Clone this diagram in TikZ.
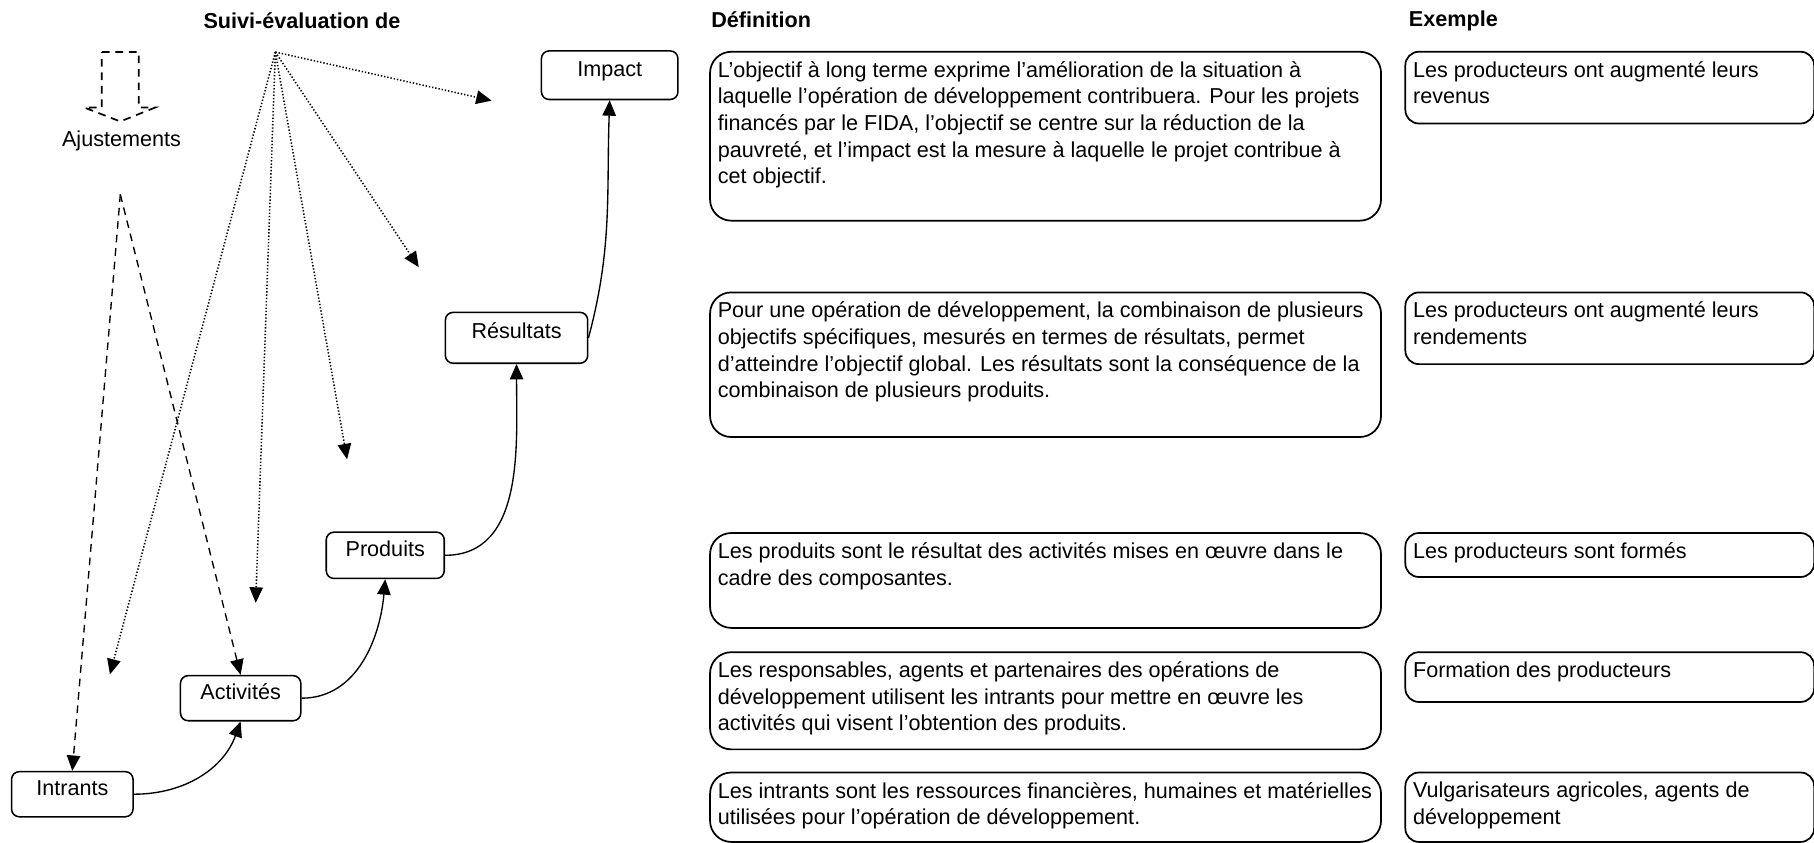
\documentclass[tikz,border=0pt]{standalone}
\usepackage{fontspec}
\setmainfont{Liberation Sans}
\usetikzlibrary{arrows.meta}
\newcommand{\px}{0.6pt}
\newdimen\pxd \pxd=0.6pt
\newcommand{\largdef}{340pt}
\newcommand{\largex}{204pt}
\newcommand{\cadretexte}[3]{\parbox[c][\dimexpr#1\pxd-10pt\relax][t]{#2}{\raggedright #3}}
\tikzset{
    etape/.style={draw, rounded corners=4pt, line width=0.8pt, inner sep=0pt, text height=7pt, text depth=6pt},
    cadre/.style={draw, rounded corners=11pt, line width=0.9pt, anchor=north west, inner xsep=4pt, inner ysep=5pt},
    cadrex/.style={cadre, rounded corners=7pt},
    titre/.style={font=\fontsize{11.2}{13.8}\selectfont\bfseries},
    lien/.style={-{Triangle[length=8pt,width=7pt]}, line width=0.7pt},
    suivi/.style={lien, densely dotted, line width=0.8pt},
    ajust/.style={lien, dash pattern=on 4pt off 3pt}
}
\begin{document}
\begin{tikzpicture}[x=0.6pt, y=-0.6pt, font=\fontsize{11.2}{13.8}\selectfont]
        \useasboundingbox (0,0) rectangle (1568,728);

        % titles
        \node[titre] (tsuivi) at (261,18) {Suivi-évaluation de};
        \node[titre, anchor=west] (tdef) at (609,17) {Définition};
        \node[titre, anchor=west] (tex) at (1212,18) {Exemple};

        % chain of steps
        \node[etape, minimum width={118*\px}, minimum height={42*\px}] (impact) at (527,65) {Impact};
        \node[etape, minimum width={123*\px}, minimum height={44*\px}] (resultats) at (446.5,292) {Résultats};
        \node[etape, minimum width={102*\px}, minimum height={40*\px}] (produits) at (333,480) {Produits};
        \node[etape, minimum width={104*\px}, minimum height={39*\px}] (activites) at (208,603.5) {Activités};
        \node[etape, minimum width={105*\px}, minimum height={39*\px}] (intrants) at (62.5,686.5) {Intrants};

        \draw[lien] (intrants.east) to[out=0, in=250] (activites.south);
        \draw[lien] (activites.east) to[out=0, in=265] (produits.south);
        \draw[lien] (produits.east) to[out=0, in=270] (resultats.south);
        \draw[lien] (resultats.east) to[out=75, in=268] (impact.south);

        % adjustments
        \draw[line width=0.9pt, dash pattern=on 4pt off 3pt]
            (88,45) -- (120,45) -- (120,93) -- (134,93) -- (104,105) -- (73,93) -- (88,93) -- cycle;
        \node (ajust) at (105,122) {Ajustements};
        \coordinate (aj) at (104,168);
        \draw[ajust] (aj) -- (intrants.north);
        \draw[ajust] (aj) -- (activites.north);

        % monitoring arrows
        \coordinate (se) at (238,45);
        \foreach \nom/\x/\y in {s1/425/87, s2/362/231, s3/300/397, s4/221/521, s5/95/583}{
            \coordinate (\nom) at (\x,\y);
            \draw[suivi] (se) -- (\nom);
        }

        % definitions
        \node[cadre] (def1) at (613,44) {\cadretexte{146}{\largdef}{L’objectif à long terme exprime l’amélioration de la situation à\\
            laquelle l’opération de développement contribuera. Pour les projets\\
            financés par le FIDA, l’objectif se centre sur la réduction de la\\
            pauvreté, et l’impact est la mesure à laquelle le projet contribue à\\
            cet objectif.}};
        \node[cadre] (def2) at (613,252) {\cadretexte{125}{\largdef}{Pour une opération de développement, la combinaison de plusieurs\\
            objectifs spécifiques, mesurés en termes de résultats, permet\\
            d’atteindre l’objectif global. Les résultats sont la conséquence de la\\
            combinaison de plusieurs produits.}};
        \node[cadre] (def3) at (613,460) {\cadretexte{82}{\largdef}{Les produits sont le résultat des activités mises en œuvre dans le\\
            cadre des composantes.}};
        \node[cadre] (def4) at (613,563) {\cadretexte{84}{\largdef}{Les responsables, agents et partenaires des opérations de\\
            développement utilisent les intrants pour mettre en œuvre les\\
            activités qui visent l’obtention des produits.}};
        \node[cadre] (def5) at (613,667) {\cadretexte{60}{\largdef}{Les intrants sont les ressources financières, humaines et matérielles\\
            utilisées pour l’opération de développement.}};

        % examples
        \node[cadrex] (ex1) at (1214,44) {\cadretexte{62}{\largex}{Les producteurs ont augmenté leurs\\ revenus}};
        \node[cadrex] (ex2) at (1214,252) {\cadretexte{62}{\largex}{Les producteurs ont augmenté leurs\\ rendements}};
        \node[cadrex] (ex3) at (1214,460) {\cadretexte{38}{\largex}{Les producteurs sont formés}};
        \node[cadrex] (ex4) at (1214,563) {\cadretexte{43}{\largex}{Formation des producteurs}};
        \node[cadrex] (ex5) at (1214,667) {\cadretexte{60}{\largex}{Vulgarisateurs agricoles, agents de\\ développement}};
    \end{tikzpicture}
\end{document}
